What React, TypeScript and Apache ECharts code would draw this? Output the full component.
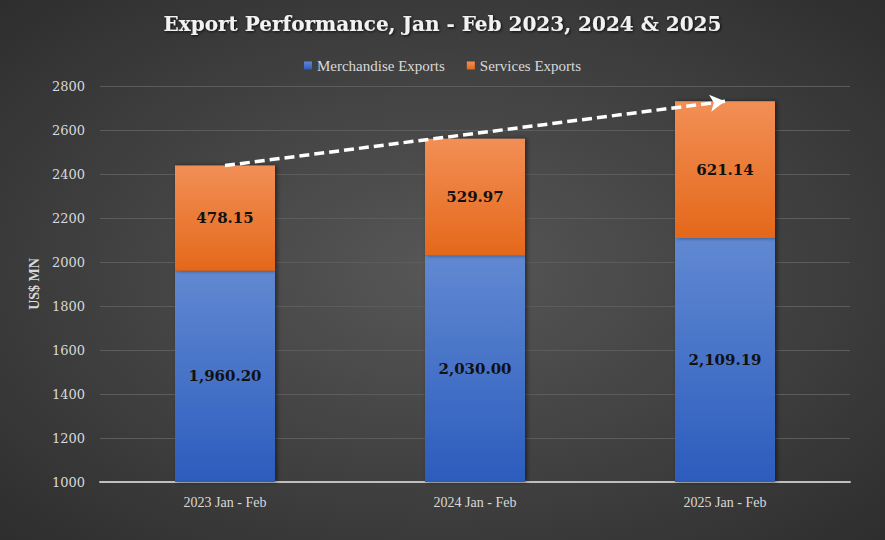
import React, { useEffect, useRef } from "react";
import * as echarts from "echarts";

const categories = ["2023 Jan - Feb", "2024 Jan - Feb", "2025 Jan - Feb"];
const merchandise = [1960.2, 2030.0, 2109.19];
const services = [478.15, 529.97, 621.14];
const yTicks = { min: 1000, max: 2800, interval: 200 };

const WIDE = "'DejaVu Serif', serif";
const NARROW = "'Liberation Serif', serif";

export default function App() {
  const ref = useRef<HTMLDivElement>(null);
  useEffect(() => {
    document.body.style.margin = "0";
    const chart = echarts.init(ref.current!, null, { renderer: "svg" });
    const totals = merchandise.map((m, i) => m + services[i]);
    const fmt = (v: number) =>
      v.toLocaleString("en-US", { minimumFractionDigits: 2, maximumFractionDigits: 2 });
    const labelStyle = {
      show: true,
      position: "inside",
      color: "#111",
      fontFamily: WIDE,
      fontWeight: "bold",
      fontSize: 15,
      formatter: (p: any) => fmt(p.value),
    };
    chart.setOption({
      animation: false,
      backgroundColor: {
        type: "radial",
        x: 0.5,
        y: 0.5,
        r: 0.75,
        colorStops: [
          { offset: 0, color: "#575757" },
          { offset: 1, color: "#2b2b2b" },
        ],
      },
      title: {
        text: "Export Performance, Jan - Feb 2023, 2024 & 2025",
        left: "center",
        top: 9,
        textStyle: {
          color: "#f2f2f2",
          fontFamily: WIDE,
          fontWeight: "bold",
          fontSize: 20,
          textShadowColor: "rgba(0,0,0,0.8)",
          textShadowBlur: 3,
          textShadowOffsetX: 1,
          textShadowOffsetY: 1,
        },
      },
      legend: {
        top: 53,
        left: "center",
        itemWidth: 8,
        itemHeight: 8,
        itemGap: 22,
        icon: "rect",
        textStyle: { color: "#d9d9d9", fontFamily: NARROW, fontSize: 15 },
        data: ["Merchandise Exports", "Services Exports"],
      },
      grid: { left: 100, right: 35, top: 86, bottom: 58 },
      xAxis: {
        type: "category",
        data: categories,
        axisTick: { show: false },
        axisLine: { lineStyle: { color: "#bfbfbf", width: 2 } },
        axisLabel: { color: "#d9d9d9", fontFamily: NARROW, fontSize: 14, margin: 13 },
      },
      yAxis: {
        type: "value",
        min: yTicks.min,
        max: yTicks.max,
        interval: yTicks.interval,
        name: "US$ MN",
        nameLocation: "middle",
        nameGap: 56,
        nameTextStyle: { color: "#d9d9d9", fontFamily: NARROW, fontWeight: "bold", fontSize: 14 },
        axisLine: { show: false },
        axisTick: { show: false },
        axisLabel: {
          color: "#d9d9d9",
          fontFamily: WIDE,
          fontSize: 13,
          margin: 15,
          formatter: (v: number) => String(v),
        },
        splitLine: { lineStyle: { color: "#5c5c5c", width: 1 } },
      },
      series: [
        {
          name: "Merchandise Exports",
          type: "bar",
          stack: "total",
          barWidth: "40%",
          data: merchandise,
          itemStyle: {
            color: {
              type: "linear", x: 0, y: 0, x2: 0, y2: 1,
              colorStops: [
                { offset: 0, color: "#6189d2" },
                { offset: 1, color: "#2c5cbd" },
              ],
            },
            shadowColor: "rgba(0,0,0,0.5)",
            shadowBlur: 4,
            shadowOffsetX: 2,
          },
          label: labelStyle,
        },
        {
          name: "Services Exports",
          type: "bar",
          stack: "total",
          barWidth: "40%",
          data: services,
          itemStyle: {
            color: {
              type: "linear", x: 0, y: 0, x2: 0, y2: 1,
              colorStops: [
                { offset: 0, color: "#f28f56" },
                { offset: 1, color: "#e4681a" },
              ],
            },
            shadowColor: "rgba(0,0,0,0.5)",
            shadowBlur: 4,
            shadowOffsetX: 2,
          },
          label: labelStyle,
          markLine: {
            silent: true,
            symbol: ["none", "arrow"],
            symbolSize: [13, 15],
            label: { show: false },
            lineStyle: { color: "#ffffff", width: 3.5, type: [10, 5] },
            data: [
              [
                { coord: [categories[0], totals[0]] },
                { coord: [categories[2], totals[2]] },
              ],
            ],
          },
        },
      ],
    });
    return () => chart.dispose();
  }, []);
  return <div ref={ref} style={{ width: 885, height: 540 }} />;
}
